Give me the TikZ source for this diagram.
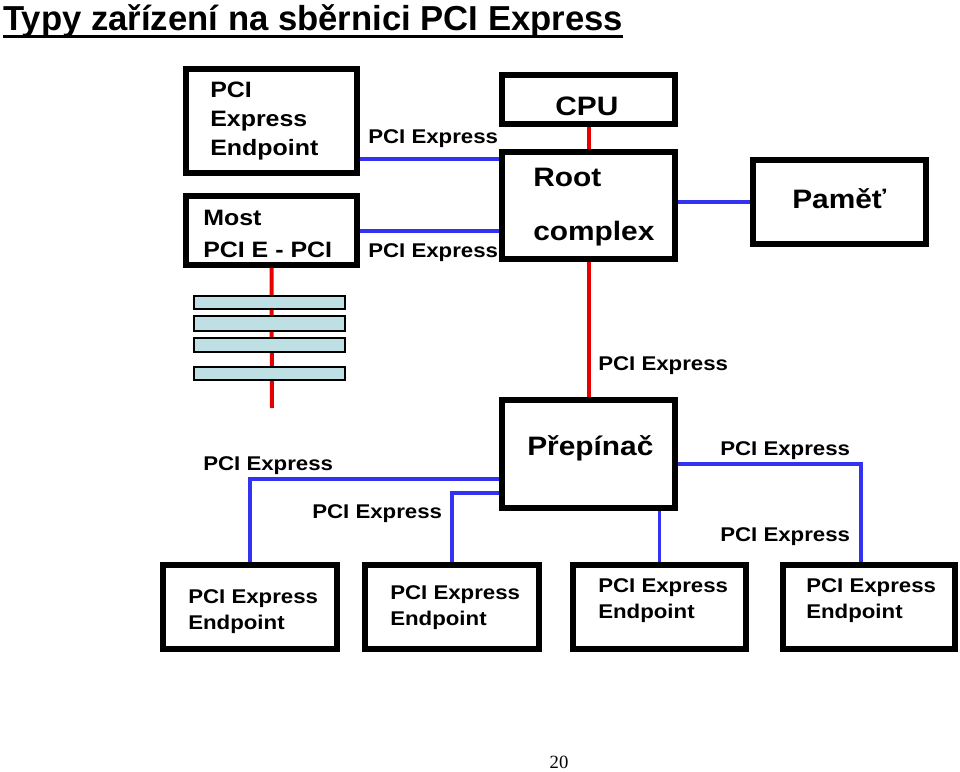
\documentclass[tikz,border=0pt]{standalone}
\usepackage{fontspec}
\setmainfont{Liberation Sans}
\newfontfamily\labf[FakeStretch=1.12]{Liberation Sans}
\newfontfamily\serf{Liberation Serif}
\definecolor{pblue}{RGB}{50,50,240}
\definecolor{pred}{RGB}{230,0,0}
\definecolor{barblue}{RGB}{190,224,228}
\begin{document}
\begin{tikzpicture}[x=0.75pt,y=-0.75pt,
  box/.style={draw, line width=4.5pt, fill=white, inner sep=0pt, anchor=center},
  pcie/.style={draw=pblue, line width=2.6pt},
  redl/.style={draw=pred, line width=3pt},
  bar/.style={draw, line width=1.2pt, fill=barblue, inner sep=0pt, minimum width=113.25pt, anchor=north west},
  big/.style={font=\labf\bfseries\fontsize{20}{24}\selectfont, inner sep=0pt, anchor=base west},
  mid/.style={font=\labf\bfseries\fontsize{16.7}{21.75}\selectfont, inner sep=0pt, anchor=base west, align=left},
  sml/.style={font=\labf\bfseries\fontsize{14.9}{19.5}\selectfont, inner sep=0pt, anchor=base west, align=left}]
\useasboundingbox (0,0) rectangle (960,771);

% title
\node[font=\bfseries\fontsize{26}{30}\selectfont, inner sep=0pt, anchor=base west] (title) at (3,30) {Typy zařízení na sběrnici PCI Express};
\draw[line width=1.9pt] ([yshift=-5pt]title.base west) -- ([yshift=-5pt]title.base east);

% boxes
\node[box, minimum width=128.25pt, minimum height=78pt] (tlep) at (271.5,121) {};
\node[box, minimum width=128.25pt, minimum height=51.75pt] (most) at (271.5,230.5) {};
\node[box, minimum width=129.75pt, minimum height=36.75pt] (cpu) at (588.5,99.5) {};
\node[box, minimum width=129.75pt, minimum height=80.25pt] (root) at (588.5,205.5) {};
\node[box, minimum width=129.75pt, minimum height=63pt] (pamet) at (839.5,202) {};
\node[box, minimum width=129.75pt, minimum height=81pt] (prep) at (588.5,454) {};
\node[box, minimum width=130.5pt, minimum height=63pt] (ep1) at (250,607) {};
\node[box, minimum width=130.5pt, minimum height=63pt] (ep2) at (452,607) {};
\node[box, minimum width=129.75pt, minimum height=63pt] (ep3) at (659.5,607) {};
\node[box, minimum width=129pt, minimum height=63pt] (ep4) at (869,607) {};

% connectors
\draw[pcie] (tlep.east |- 0,159) -- (root.west |- 0,159);
\draw[pcie] (most.east |- 0,231) -- (root.west |- 0,231);
\draw[pcie] (root.east |- 0,202) -- (pamet.west |- 0,202);
\draw[redl] (cpu.south) -- (root.north);
\draw[redl] (root.south) -- (prep.north);
\coordinate (busend) at (272,408);
\draw[redl] (most.south) -- (busend);
\draw[pcie] (prep.west |- 0,479) -| (ep1.north);
\draw[pcie] (prep.west |- 0,493) -| (ep2.north);
\draw[pcie] (ep3.north |- prep.south) -- (ep3.north);
\draw[pcie] (prep.east |- 0,464) -| ([xshift=-6pt]ep4.north);

% bus bars
\node[bar, minimum height=9.75pt] (bar1) at (193,295) {};
\node[bar, minimum height=11.25pt] (bar2) at (193,315) {};
\node[bar, minimum height=10.5pt] (bar3) at (193,337) {};
\node[bar, minimum height=9.75pt] (bar4) at (193,366) {};

% box texts (base anchor = baseline of last line)
\node[mid] (ttlep) at (210,155) {PCI\\Express\\Endpoint};
\node[mid, font=\labf\bfseries\fontsize{16.7}{24}\selectfont] (tmost) at (203,257) {Most\\PCI E - PCI};
\node[big] (tcpu) at (555,115) {CPU};
\node[big] (troot) at (533,186) {Root};
\node[big] (tcomplex) at (533,240) {complex};
\node[big] (tpamet) at (792,208) {Paměť};
\node[big] (tprep) at (527,455) {Přepínač};
\node[sml] (tep1) at (188,629) {PCI Express\\Endpoint};
\node[sml] (tep2) at (390,625) {PCI Express\\Endpoint};
\node[sml] (tep3) at (598,618) {PCI Express\\Endpoint};
\node[sml] (tep4) at (806,618) {PCI Express\\Endpoint};

% connector labels
\node[sml] (l1) at (368,143) {PCI Express};
\node[sml] (l2) at (368,257) {PCI Express};
\node[sml] (l3) at (598,370) {PCI Express};
\node[sml] (l4) at (203,470) {PCI Express};
\node[sml] (l5) at (312,518) {PCI Express};
\node[sml] (l6) at (720,455) {PCI Express};
\node[sml] (l7) at (720,541) {PCI Express};

% page number
\node[font=\serf\fontsize{14}{16}\selectfont, inner sep=0pt, anchor=base] (pnum) at (559,768) {20};
\end{tikzpicture}
\end{document}
